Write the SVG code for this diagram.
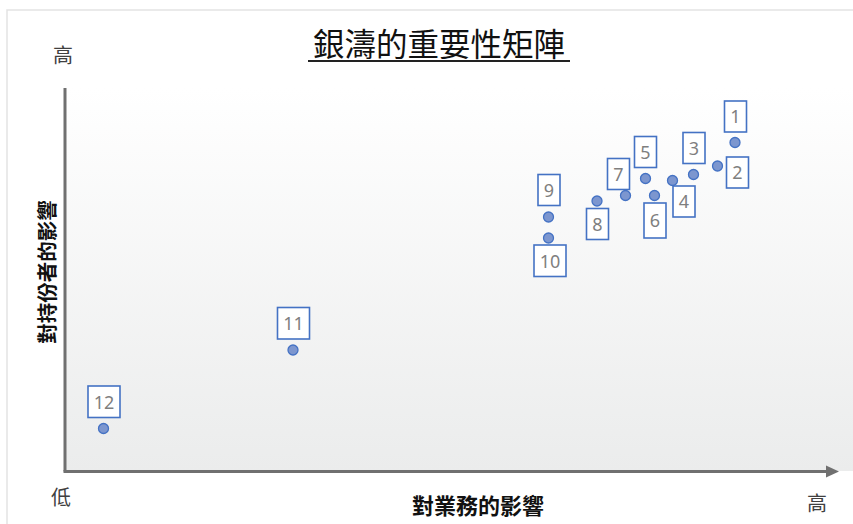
<svg xmlns="http://www.w3.org/2000/svg" width="853" height="524" viewBox="0 0 853 524">
<style>
.box{fill:#ffffff;stroke:#4472c4;stroke-width:1.6}
.num{font-family:"Noto Sans","Liberation Sans",sans-serif;font-size:18px;fill:#7f7f7f;text-anchor:middle}
.dot{fill:#7c96cf;stroke:#4472c4;stroke-width:1.3}
.lbl{font-family:"Noto Sans CJK TC","Noto Sans CJK SC",sans-serif;font-size:20px;fill:#404040;text-anchor:middle}
.axt{font-family:"Noto Sans CJK TC","Noto Sans CJK SC",sans-serif;font-weight:bold;fill:#111111;text-anchor:middle}
.axis{stroke:#707070;stroke-width:3;fill:none}
</style>
<defs>
<linearGradient id="bg" x1="0" y1="0" x2="0" y2="1">
<stop offset="0" stop-color="#ffffff"/>
<stop offset="1" stop-color="#ebecec"/>
</linearGradient>
</defs>
<rect x="0" y="0" width="853" height="524" fill="#ffffff"/>
<path d="M7,524 V10 H853" fill="none" stroke="#e3e3e3" stroke-width="1.5"/>
<rect x="65" y="88" width="788" height="383" fill="url(#bg)"/>
<g id="title">
<text x="439" y="56" font-family="'Noto Sans CJK TC','Noto Sans CJK SC',sans-serif" font-size="31.5" fill="#111111" text-anchor="middle">銀濤的重要性矩陣</text>
<line x1="308" y1="61" x2="570" y2="61" stroke="#222222" stroke-width="1.8"/>
</g>
<g id="axes">
<line class="axis" x1="65" y1="88" x2="65" y2="471.5"/>
<line class="axis" x1="63.5" y1="471.5" x2="828" y2="471.5"/>
<polygon points="826,465.5 839,471.5 826,477.5" fill="#707070"/>
</g>
<g id="axis-labels">
<text class="lbl" x="63" y="63">高</text>
<text class="lbl" x="61" y="505">低</text>
<text class="lbl" x="817" y="511">高</text>
<text class="axt" x="478" y="514" font-size="22">對業務的影響</text>
<text class="axt" x="0" y="0" font-size="20.5" transform="translate(55,272) rotate(-90)">對持份者的影響</text>
</g>
<g id="p1"><rect class="box" x="724.5" y="101" width="22" height="31"/><text class="num" x="735.5" y="123">1</text><circle class="dot" cx="735" cy="142.5" r="5"/></g>
<g id="p2"><rect class="box" x="726.5" y="157" width="22" height="31"/><text class="num" x="737.5" y="179">2</text><circle class="dot" cx="717.5" cy="166" r="5"/></g>
<g id="p3"><rect class="box" x="683" y="132.5" width="22" height="31"/><text class="num" x="694" y="154.5">3</text><circle class="dot" cx="693.5" cy="174.5" r="5"/></g>
<g id="p4"><rect class="box" x="673" y="186" width="22" height="31"/><text class="num" x="684" y="208">4</text><circle class="dot" cx="672.5" cy="180.5" r="5"/></g>
<g id="p5"><rect class="box" x="634.5" y="136.5" width="22" height="31"/><text class="num" x="645.5" y="158.5">5</text><circle class="dot" cx="645.5" cy="178.5" r="5"/></g>
<g id="p6"><rect class="box" x="644" y="203" width="22" height="35"/><text class="num" x="655" y="227">6</text><circle class="dot" cx="654.5" cy="195.5" r="5"/></g>
<g id="p7"><rect class="box" x="607.5" y="158.5" width="22" height="31"/><text class="num" x="618.5" y="180.5">7</text><circle class="dot" cx="625.5" cy="195.5" r="5"/></g>
<g id="p8"><rect class="box" x="586.5" y="208.5" width="22" height="31"/><text class="num" x="597.5" y="230.5">8</text><circle class="dot" cx="597" cy="201" r="5"/></g>
<g id="p9"><rect class="box" x="538" y="174.5" width="22" height="31"/><text class="num" x="549" y="196.5">9</text><circle class="dot" cx="548.5" cy="217" r="5"/></g>
<g id="p10"><rect class="box" x="534" y="245" width="32" height="31.5"/><text class="num" x="550" y="267.5">10</text><circle class="dot" cx="548.5" cy="238" r="5"/></g>
<g id="p11"><rect class="box" x="277.5" y="307.5" width="32" height="31.5"/><text class="num" x="293.5" y="330">11</text><circle class="dot" cx="293" cy="350" r="5"/></g>
<g id="p12"><rect class="box" x="88" y="386" width="32" height="31.5"/><text class="num" x="104" y="408.5">12</text><circle class="dot" cx="103.5" cy="428.5" r="5"/></g>
</svg>
